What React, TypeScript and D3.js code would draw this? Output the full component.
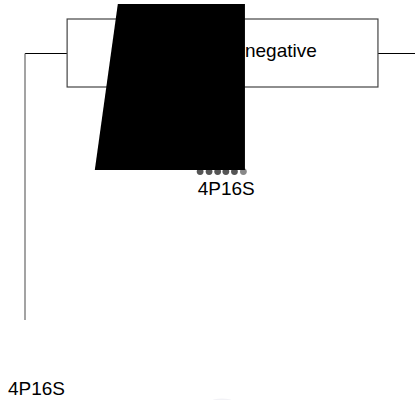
import * as d3 from 'd3';

// box (horizontal) for the single category
const categories = ['negative'];
const whiskerLow = [0];
const boxQ1 = [10.8];
const boxQ3 = [90.5];
const whiskerHigh = [100];
const boxTop = [4.75];
const boxBottom = [21.75];
const whiskerDrop = [80];

// filled block
const blockTopLeft = [23.8];
const blockBottomLeft = [17.9];
const blockRight = [56.4];
const blockTop = [1];
const blockBottom = [42.5];

// small points under the block
const pointX = [44.9, 47.2, 49.4, 51.5, 53.7, 56.0];
const pointY = [42.9, 42.9, 42.9, 42.9, 42.9, 42.9];

// labels
const tickLabels = ['4P16S', '4P16S'];
const tickX = [51.6, -4.36];
const tickY = [48.75, 98.75];

const W = 415;
const H = 400;

export default function App() {
  const x = d3.scaleLinear().domain([0, 100]).range([25, 415]);
  const y = d3.scaleLinear().domain([0, 100]).range([0, 400]);
  const font = 'Liberation Sans, Arial, sans-serif';

  const i = 0;
  const mid = (y(boxTop[i]) + y(boxBottom[i])) / 2 + 0.5;

  const block = d3.line()([
    [x(blockTopLeft[i]), y(blockTop[i])],
    [x(blockRight[i]), y(blockTop[i])],
    [x(blockRight[i]), y(blockBottom[i])],
    [x(blockBottomLeft[i]), y(blockBottom[i])],
  ]) + 'Z';

  return (
    <svg
      width={W}
      height={H}
      style={{ position: 'absolute', left: 0, top: 0, background: '#fff' }}
    >
      {/* whiskers */}
      <line x1={x(whiskerLow[i])} x2={x(boxQ1[i])} y1={mid} y2={mid} stroke="#000" strokeWidth={1} shapeRendering="crispEdges" />
      <line x1={x(boxQ3[i])} x2={x(whiskerHigh[i])} y1={mid} y2={mid} stroke="#000" strokeWidth={1} shapeRendering="crispEdges" />
      <line x1={x(whiskerLow[i])} x2={x(whiskerLow[i])} y1={mid} y2={y(whiskerDrop[i])} stroke="#666" strokeWidth={1.2} />

      {/* box */}
      <rect
        x={x(boxQ1[i])}
        y={y(boxTop[i])}
        width={x(boxQ3[i]) - x(boxQ1[i])}
        height={y(boxBottom[i]) - y(boxTop[i])}
        fill="#fff"
        stroke="#444"
        strokeWidth={1.2}
      />
      <text x={x(blockRight[i])} y={mid + 3.5} fontFamily={font} fontSize={19} fill="#000">
        {categories[i]}
      </text>

      {/* points */}
      {pointX.map((px, k) => (
        <circle key={k} cx={x(px)} cy={y(pointY[k])} r={3.4} fill={k === pointX.length - 1 ? '#888' : '#555'} />
      ))}

      {/* block */}
      <path d={block} fill="#000" />

      {/* labels */}
      <text x={x(tickX[0])} y={y(tickY[0])} textAnchor="middle" fontFamily={font} fontSize={19} fill="#000">
        {tickLabels[0]}
      </text>
      <text x={x(tickX[1])} y={y(tickY[1])} fontFamily={font} fontSize={19} fill="#000">
        {tickLabels[1]}
      </text>

      {/* faint mark at bottom edge */}
      <ellipse cx={222} cy={401} rx={10} ry={2.5} fill="#f2f2f6" />
    </svg>
  );
}
